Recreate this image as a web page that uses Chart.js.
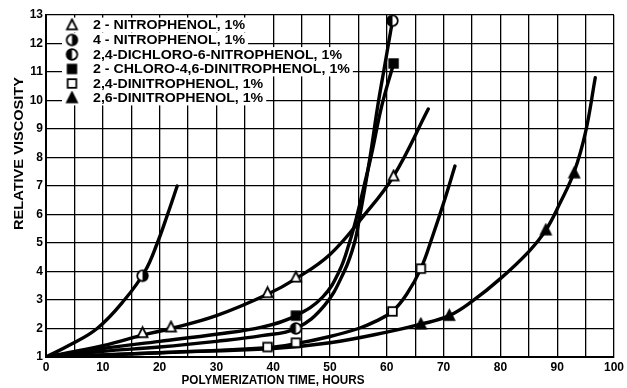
<!DOCTYPE html>
<html><head><meta charset="utf-8">
<script src="https://cdn.jsdelivr.net/npm/chart.js@4.4.1/dist/chart.umd.min.js"></script>
<style>html,body{margin:0;padding:0;background:#fff}</style>
</head><body>
<canvas id="c" width="627" height="388"></canvas>
<script>
// ---- data ----
const legendLabels = [
  "2 - NITROPHENOL, 1%",
  "4 - NITROPHENOL, 1%",
  "2,4-DICHLORO-6-NITROPHENOL, 1%",
  "2 - CHLORO-4,6-DINITROPHENOL, 1%",
  "2,4-DINITROPHENOL, 1%",
  "2,6-DINITROPHENOL, 1%"
];
const xTickLabels = [0,10,20,30,40,50,60,70,80,90,100];
const yTickLabels = [1,2,3,4,5,6,7,8,9,10,11,12,13];
const xTitle = "POLYMERIZATION TIME, HOURS";
const yTitle = "RELATIVE VISCOSITY";

const nitro2Curve = [[0,1],[10,1.4],[17,1.77],[22,2.0],[30,2.45],[39,3.2],[44,3.75],[50,4.6],[55.7,5.9],[61.2,7.35],[67.3,9.7]];
const nitro2Points = [[17,1.85],[22,2.05],[39,3.25],[44,3.8],[61.2,7.35]];

const nitro4Curve = [[0,1],[4,1.4],[9,2],[13.8,3],[17.4,4],[19.6,5],[21.4,6],[23.1,7]];
const nitro4Points = [[17,3.85]];

const dichloroCurve = [[0,1],[10,1.2],[20,1.35],[30,1.55],[38,1.75],[44,2.0],[49,2.8],[52.5,4],[54.3,5],[55.3,6],[56.2,7],[57.2,8.2],[58.4,9.8],[59.7,11.3],[61,12.8]];
const dichloroPoints = [[44,2.0],[61,12.8]];

const chloroCurve = [[0,1],[10,1.3],[20,1.55],[30,1.8],[38,2.05],[44,2.45],[48.7,3.1],[51.6,4],[53.4,5],[54.8,6],[56,7],[57.3,8.1],[59.1,9.8],[61.2,11.3]];
const chloroPoints = [[44,2.45],[61.2,11.3]];

const dnp24Curve = [[0,1],[20,1.15],[39,1.33],[44,1.47],[50,1.72],[55,2.0],[58,2.25],[61,2.6],[63.5,3.2],[66,4.1],[68,5.2],[70,6.4],[72,7.7]];
const dnp24Points = [[39,1.35],[44,1.5],[61,2.6],[66,4.1]];

const dnp26Curve = [[0,1],[20,1.15],[40,1.3],[50,1.5],[60,1.87],[66,2.15],[71,2.45],[75,2.95],[80,3.75],[85,4.7],[88,5.45],[90.5,6.4],[93,7.5],[95,8.9],[96.7,10.8]];
const dnp26Points = [[66,2.15],[71,2.45],[88,5.45],[93,7.45]];

// ---- markers ----
function makeMarker(kind){
  const s = 15, c = 7.5;
  const cv = document.createElement('canvas'); cv.width = s; cv.height = s;
  const g = cv.getContext('2d');
  g.lineWidth = 1.8; g.strokeStyle = '#000'; g.fillStyle = '#000';
  if (kind === 'triOpen' || kind === 'triFill'){
    g.beginPath(); g.moveTo(c, c-5.5); g.lineTo(c+5, c+4.3); g.lineTo(c-5, c+4.3); g.closePath();
    g.fillStyle = kind === 'triFill' ? '#000' : '#fff'; g.fill(); g.stroke();
  } else if (kind === 'sqOpen' || kind === 'sqFill'){
    g.fillStyle = kind === 'sqFill' ? '#000' : '#fff';
    g.fillRect(c-4.3, c-4.3, 8.6, 8.6); g.strokeRect(c-4.3, c-4.3, 8.6, 8.6);
  } else {
    const r = 5.3;
    g.beginPath(); g.arc(c, c, r, 0, Math.PI*2); g.fillStyle = '#fff'; g.fill();
    g.beginPath();
    if (kind === 'circR') g.arc(c, c, r, -Math.PI/2, Math.PI/2);
    else g.arc(c, c, r, Math.PI/2, Math.PI*1.5);
    g.closePath(); g.fillStyle = '#000'; g.fill();
    g.beginPath(); g.arc(c, c, r, 0, Math.PI*2); g.stroke();
  }
  return cv;
}
const markerKinds = ['triOpen','circR','circL','sqFill','sqOpen','triFill'];
const markers = markerKinds.map(makeMarker);

const curves = [nitro2Curve, nitro4Curve, dichloroCurve, chloroCurve, dnp24Curve, dnp26Curve];
const points = [nitro2Points, nitro4Points, dichloroPoints, chloroPoints, dnp24Points, dnp26Points];
const toXY = a => a.map(p => ({x:p[0], y:p[1]}));

const datasets = [];
curves.forEach((cv, i) => {
  datasets.push({ label: legendLabels[i], data: toXY(cv), showLine: true, borderColor: '#000',
    borderWidth: 3.4, pointRadius: 0, tension: 0.4, order: 1, fill: false,
    borderCapStyle: 'round', borderJoinStyle: 'round' });
});
points.forEach((pt, i) => {
  datasets.push({ label: legendLabels[i] + ' pts', data: toXY(pt), showLine: false,
    pointStyle: markers[i], pointRadius: 6, order: 0 });
});

function fitText(ctx, text, x, y, width, font, align){
  ctx.save(); ctx.font = font;
  const w = ctx.measureText(text).width; const k = width / w;
  ctx.translate(x, y); ctx.scale(k, 1);
  ctx.textAlign = align || 'left'; ctx.textBaseline = 'middle'; ctx.fillStyle = '#000';
  ctx.fillText(text, 0, 0); ctx.restore();
}

const decorPlugin = {
  id: 'decor',
  afterDraw(chart){
    const ctx = chart.ctx;
    // legend
    const rowY = [25, 40, 54.5, 69, 83.5, 98];
    const font = 'bold 13.5px "Liberation Sans"';
    ctx.save(); ctx.font = font;
    const k = 249 / ctx.measureText(legendLabels[2]).width;
    ctx.restore();
    legendLabels.forEach((t, i) => {
      ctx.save(); ctx.font = font;
      const w = ctx.measureText(t).width * k;
      ctx.fillStyle = '#fff';
      ctx.fillRect(62, rowY[i] - 7.4, 93 + w + 3 - 62, 14.8);
      ctx.restore();
    });
    legendLabels.forEach((t, i) => {
      ctx.save(); ctx.font = font;
      const w = ctx.measureText(t).width * k;
      ctx.restore();
      ctx.drawImage(markers[i], 72 - 7.5, rowY[i] - 7.5);
      fitText(ctx, t, 93, rowY[i] + 0.5, w, font, 'left');
    });
    // axis titles
    fitText(ctx, xTitle, 273, 381, 183, 'bold 12.5px "Liberation Sans"', 'center');
    ctx.save(); ctx.translate(19, 153.5); ctx.rotate(-Math.PI/2);
    fitText(ctx, yTitle, 0, 0, 153, 'bold 13.5px "Liberation Sans"', 'center');
    ctx.restore();
  }
};

new Chart(document.getElementById('c'), {
  type: 'scatter',
  data: { datasets },
  options: {
    responsive: false, animation: false, devicePixelRatio: 1,
    layout: { padding: { top: 15, right: 8, left: 0, bottom: 0 } },
    plugins: { legend: { display: false }, tooltip: { enabled: false } },
    scales: {
      x: { type: 'linear', min: 0, max: 100,
        afterFit(s){ s.height = 31; },
        ticks: { stepSize: 5, autoSkip: false, maxRotation: 0, padding: 3, color: '#000',
          font: { family: 'Liberation Sans', size: 12, weight: 'bold' },
          callback: v => xTickLabels.includes(v) ? String(v) : '' },
        grid: { color: '#000', lineWidth: 1.3, drawTicks: false },
        border: { color: '#000', width: 2 } },
      y: { type: 'linear', min: 1, max: 13,
        afterFit(s){ s.width = 46; },
        ticks: { stepSize: 1, padding: 3, color: '#000',
          font: { family: 'Liberation Sans', size: 12, weight: 'bold' },
          callback: v => yTickLabels.includes(v) ? String(v) : '' },
        grid: { color: '#000', lineWidth: 1.3, drawTicks: false },
        border: { color: '#000', width: 2 } }
    }
  },
  plugins: [decorPlugin]
});
</script>
</body></html>
